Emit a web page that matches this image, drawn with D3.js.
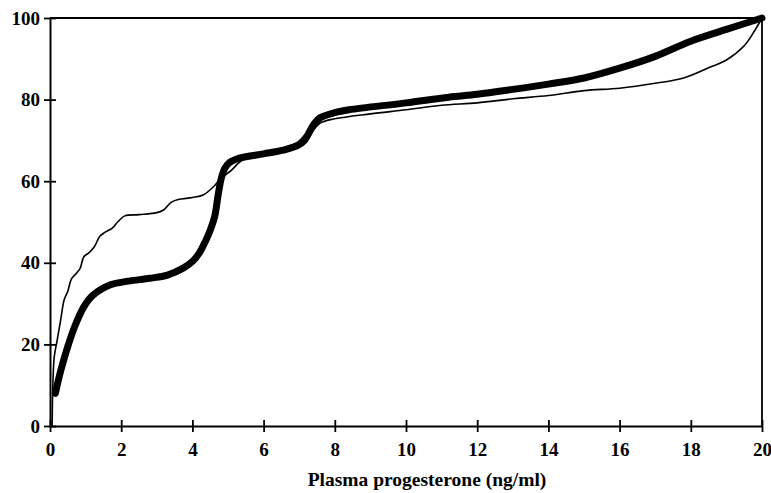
<!DOCTYPE html>
<html>
<head>
<meta charset="utf-8">
<script src="https://cdn.jsdelivr.net/npm/d3@7"></script>
<style>
  body { margin: 0; background: #fff; }
  text { font-family: "Liberation Serif", "DejaVu Serif", serif; font-weight: bold; fill: #000; }
</style>
</head>
<body>
<svg id="chart" width="771" height="493"></svg>
<script>
// tick labels
const xTicks = [0, 2, 4, 6, 8, 10, 12, 14, 16, 18, 20];
const yTicks = [0, 20, 40, 60, 80, 100];

// thick curve (x = ng/ml, y = %)
const thickX = [0.15, 0.3, 0.5, 0.7, 0.95, 1.2, 1.7, 2.2, 2.8, 3.3, 3.74, 4.0, 4.2, 4.35, 4.5, 4.63, 4.73, 4.82, 4.92, 5.05, 5.34, 6.0, 6.55, 7.0, 7.2, 7.4, 7.6, 8.0, 8.4, 10, 11.2, 12, 13, 14, 15, 16, 17, 18, 19, 20];
const thickY = [8, 13.5, 19.5, 24.5, 29.2, 32, 34.6, 35.5, 36.2, 37, 38.7, 40.3, 42.5, 45, 48, 51.5, 57, 61, 63.3, 64.6, 65.7, 66.7, 67.6, 69, 70.8, 73.8, 75.6, 76.8, 77.5, 79.2, 80.6, 81.3, 82.5, 83.8, 85.3, 87.7, 90.6, 94.3, 97.2, 100];

// thin curve
const thinX = [0.06, 0.08, 0.12, 0.2, 0.3, 0.4, 0.5, 0.6, 0.75, 0.85, 0.95, 1.1, 1.25, 1.4, 1.55, 1.75, 1.9, 2.1, 2.5, 3.0, 3.2, 3.4, 3.6, 4.0, 4.3, 4.6, 4.8, 5.1, 5.3, 5.5, 6.0, 6.5, 7.0, 7.2, 7.4, 7.6, 8.0, 9, 10, 11, 12, 13, 14, 15, 16, 17, 17.8, 18.5, 19.0, 19.5, 19.8, 20];
const thinY = [0, 10, 17, 21, 26, 31, 33, 36, 37.5, 38.7, 41.5, 42.5, 44, 46.5, 47.5, 48.5, 50, 51.5, 51.8, 52.3, 53, 54.8, 55.5, 56, 56.6, 58.7, 60.7, 62.7, 64.5, 65.5, 66.3, 67.2, 68.3, 69.5, 72.5, 74.3, 75.3, 76.5, 77.5, 78.6, 79.2, 80.2, 81.0, 82.2, 82.8, 84, 85.3, 87.8, 89.7, 93.2, 97, 100];

const svg = d3.select("#chart");

const x = d3.scaleLinear().domain([0, 20]).range([50, 762]);
const y = d3.scaleLinear().domain([0, 100]).range([426, 18]);

// frame (top and right)
svg.append("path")
    .attr("d", `M${x(0)},${y(100)}H${x(20)}V${y(0)}`)
    .attr("fill", "none")
    .attr("stroke", "#000")
    .attr("stroke-width", 1.8);

// x axis
const xAxis = svg.append("g")
    .attr("transform", `translate(0,${y(0)})`)
    .call(d3.axisBottom(x).tickValues(xTicks).tickSize(0).tickPadding(17));
xAxis.select(".domain").attr("stroke-width", 2);
xAxis.selectAll(".tick line").attr("y1", -6).attr("y2", 6).attr("stroke-width", 1.8);
xAxis.selectAll("text").style("font-size", "19px").style("font-family", null);

// y axis
const yAxis = svg.append("g")
    .attr("transform", `translate(${x(0)},0)`)
    .call(d3.axisLeft(y).tickValues(yTicks).tickSize(0).tickPadding(10));
yAxis.select(".domain").attr("stroke-width", 2);
yAxis.selectAll(".tick line").attr("x1", -6).attr("x2", 6).attr("stroke-width", 1.8);
yAxis.selectAll("text").style("font-size", "19px").style("font-family", null);

// axis title
svg.append("text")
    .attr("x", 427)
    .attr("y", 486)
    .attr("text-anchor", "middle")
    .style("font-size", "19.5px")
    .text("Plasma progesterone (ng/ml)");

const line = d3.line()
    .x(d => x(d[0]))
    .y(d => y(d[1]))
    .curve(d3.curveCatmullRom);

// thin line
svg.append("path")
    .datum(d3.zip(thinX, thinY))
    .attr("d", line)
    .attr("fill", "none")
    .attr("stroke", "#000")
    .attr("stroke-width", 1.6);

// thick line
svg.append("path")
    .datum(d3.zip(thickX, thickY))
    .attr("d", line)
    .attr("fill", "none")
    .attr("stroke", "#000")
    .attr("stroke-width", 7)
    .attr("stroke-linecap", "round");
</script>
</body>
</html>
